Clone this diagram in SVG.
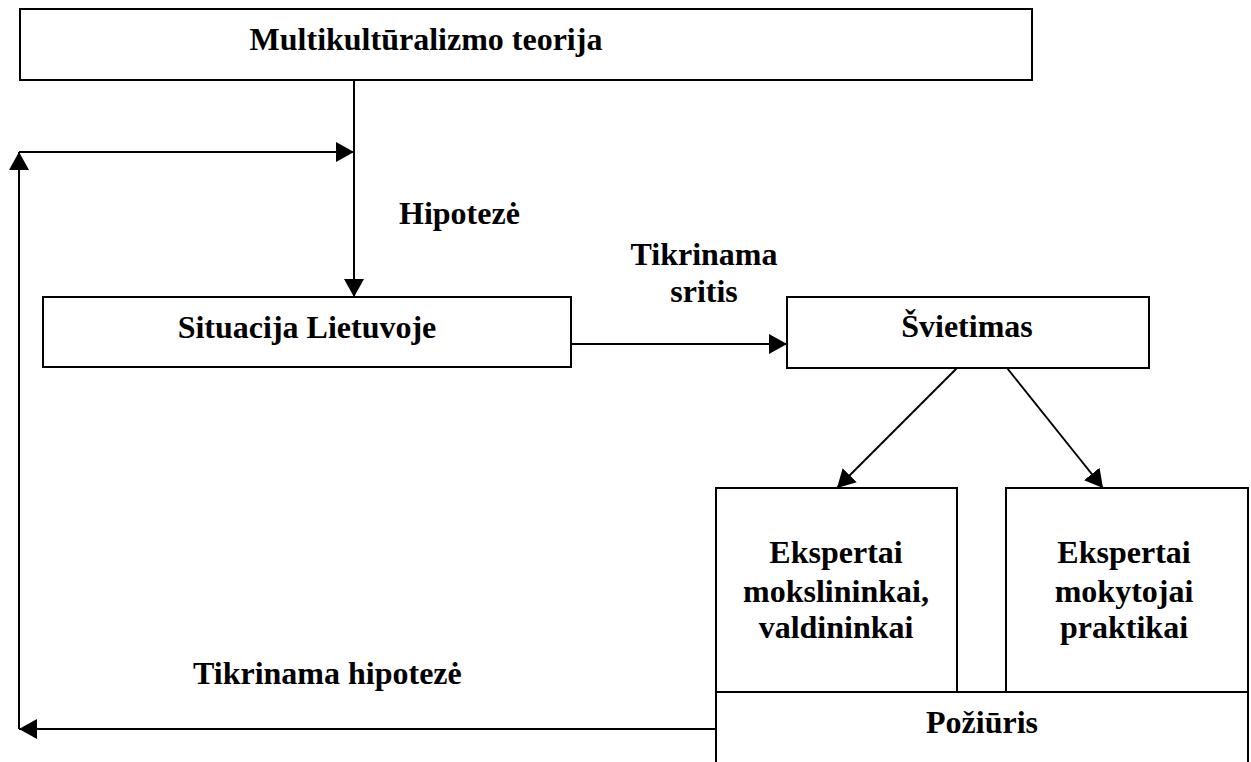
<svg xmlns="http://www.w3.org/2000/svg" width="1251" height="762" viewBox="0 0 1251 762">
<defs>
<marker id="ah" markerUnits="userSpaceOnUse" markerWidth="20" markerHeight="20" refX="18" refY="10" orient="auto">
<path d="M0,0 L18,10 L0,20 z" fill="#000"/>
</marker>
<style>
.box{fill:#fff;stroke:#000;stroke-width:2}
.t{font-family:"Liberation Serif","Times New Roman",serif;font-weight:bold;font-size:32px;fill:#000}
.c{text-anchor:middle}
.ln{fill:none;stroke:#000;stroke-width:2}
</style>
</defs>
<rect width="1251" height="762" fill="#fff"/>
<g id="connectors">
<line class="ln" x1="354" y1="80" x2="354" y2="297" marker-end="url(#ah)"/>
<line class="ln" x1="19" y1="152" x2="354" y2="152" marker-end="url(#ah)"/>
<line class="ln" x1="19" y1="729" x2="19" y2="152" marker-end="url(#ah)"/>
<line class="ln" x1="716" y1="729" x2="19" y2="729" marker-end="url(#ah)"/>
<line class="ln" x1="571" y1="344" x2="787" y2="344" marker-end="url(#ah)"/>
<line class="ln" x1="957" y1="368" x2="837" y2="488" marker-end="url(#ah)"/>
<line class="ln" x1="1007" y1="368" x2="1103" y2="488" marker-end="url(#ah)"/>
<text class="t" x="399" y="224">Hipotezė</text>
<text class="t c" x="704" y="265">Tikrinama</text>
<text class="t c" x="704" y="302">sritis</text>
<text class="t" x="193" y="684">Tikrinama hipotezė</text>
</g>
<g id="n-teorija">
<rect class="box" x="20" y="9" width="1012" height="71"/>
<text class="t c" x="426" y="50">Multikultūralizmo teorija</text>
</g>
<g id="n-situacija">
<rect class="box" x="43" y="297" width="528" height="70"/>
<text class="t c" x="307" y="338">Situacija Lietuvoje</text>
</g>
<g id="n-svietimas">
<rect class="box" x="787" y="297" width="362" height="71"/>
<text class="t c" x="967" y="337">Švietimas</text>
</g>
<g id="n-eksp1">
<rect class="box" x="716" y="488" width="241" height="204"/>
<text class="t c" x="836" y="563">Ekspertai</text>
<text class="t c" x="836" y="602">mokslininkai,</text>
<text class="t c" x="836" y="638">valdininkai</text>
</g>
<g id="n-eksp2">
<rect class="box" x="1006" y="488" width="242" height="204"/>
<text class="t c" x="1124" y="563">Ekspertai</text>
<text class="t c" x="1124" y="602">mokytojai</text>
<text class="t c" x="1124" y="638">praktikai</text>
</g>
<g id="n-poziuris">
<rect class="box" x="716" y="692" width="532" height="90"/>
<text class="t c" x="982" y="733">Požiūris</text>
</g>
</svg>
